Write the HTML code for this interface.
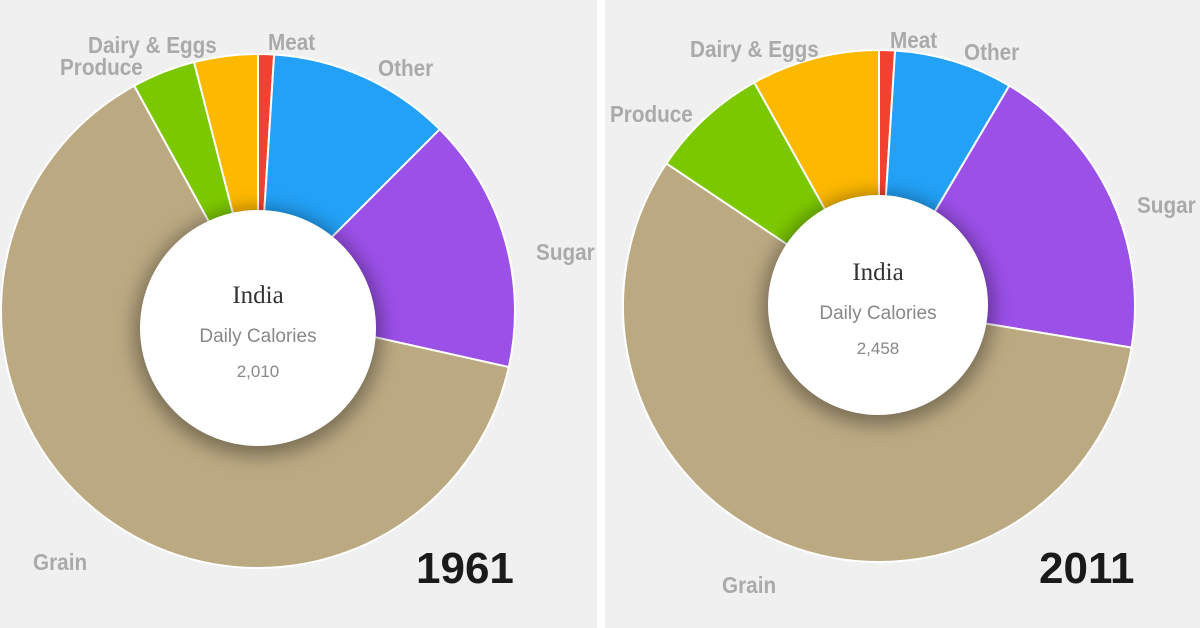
<!DOCTYPE html>
<html><head><meta charset="utf-8">
<style>
html,body{margin:0;padding:0;background:#f0f0f0;}
svg{display:block;}
.lbl{font-family:"Liberation Sans",sans-serif;font-weight:bold;fill:#aaaaaa;font-size:23px;}
.yr{font-family:"Liberation Sans",sans-serif;font-weight:bold;fill:#1a1a1a;font-size:44px;}
.t1{font-family:"Liberation Serif",serif;fill:#333;font-size:25px;}
.t2{font-family:"Liberation Sans",sans-serif;fill:#888;font-size:19px;}
.t3{font-family:"Liberation Sans",sans-serif;fill:#888;font-size:17px;}
</style></head>
<body>
<svg id="chart" width="1200" height="628" viewBox="0 0 1200 628">
<defs>
<clipPath id="cl"><rect x="0" y="0" width="597" height="628"/></clipPath>
<clipPath id="cr"><rect x="605" y="0" width="595" height="628"/></clipPath>
<filter id="sh" x="-30%" y="-30%" width="160%" height="160%"><feGaussianBlur stdDeviation="9"/></filter>
</defs>
<rect x="0" y="0" width="1200" height="628" fill="#f0f0f0"/>
<rect x="597" y="0" width="8" height="628" fill="#ffffff"/>
<g id="left" clip-path="url(#cl)"></g>
<g id="right" clip-path="url(#cr)"></g>
</svg>
<script>
const categories = ["Meat","Other","Sugar","Grain","Produce","Dairy & Eggs"];
const values1961 = [1, 11.5, 16, 63.5, 4, 4];
const values2011 = [1, 7.5, 19.1, 56.8, 7.5, 8.1];
const totals = ["2,010","2,458"];
const years = ["1961","2011"];
const colors = ["#f2412f","#22a1f7","#9b50e8","#bba982","#7cc800","#fdb800"];
const NS="http://www.w3.org/2000/svg";
function mk(tag,attrs,parent){const e=document.createElementNS(NS,tag);for(const k in attrs)e.setAttribute(k,attrs[k]);parent.appendChild(e);return e;}
function pt(cx,cy,r,deg){const a=(deg-90)*Math.PI/180;return [cx+r*Math.cos(a),cy+r*Math.sin(a)];}
function drawDonut(g,vals,cx,cy,r,icx,icy,ir,total,year,yx,labels){
  const sum=vals.reduce((a,b)=>a+b,0);let ang=0;
  vals.forEach((v,i)=>{
    const a0=ang,a1=ang+v/sum*360;ang=a1;
    const p0=pt(cx,cy,r,a0),p1=pt(cx,cy,r,a1);const large=(a1-a0)>180?1:0;
    const p=mk('path',{d:`M${cx},${cy}L${p0[0]},${p0[1]}A${r},${r} 0 ${large} 1 ${p1[0]},${p1[1]}Z`,fill:colors[i],stroke:'#ffffff','stroke-width':2},g);
    
    
  });
  const s=mk('circle',{cx:icx,cy:icy+4,r:ir+6,fill:'rgba(0,0,0,0.35)',filter:'url(#sh)'},g);
  
  
  const c=mk('circle',{cx:icx,cy:icy,r:ir,fill:'#ffffff'},g);
  
  
  const t1=mk('text',{x:icx,y:icy-25,'text-anchor':'middle',class:'t1'},g);t1.textContent='India';
  
  
  const t2=mk('text',{x:icx,y:icy+14,'text-anchor':'middle',class:'t2'},g);t2.textContent='Daily Calories';
  
  
  const t3=mk('text',{x:icx,y:icy+49,'text-anchor':'middle',class:'t3'},g);t3.textContent=total;
  
  
  labels.forEach((l,i)=>{
    const t=mk('text',{x:l[0],y:l[1],class:'lbl'},g);t.textContent=l[2];
    
    
    const w=t.getComputedTextLength();
    t.setAttribute('textLength',(w*0.9).toFixed(1));
    t.setAttribute('lengthAdjust','spacingAndGlyphs');
  });
  const y=mk('text',{x:yx,y:583,class:'yr'},g);y.textContent=year;
  
  
}
drawDonut(document.getElementById('left'),values1961,258,311,257,258,328,118,totals[0],years[0],416,
 [[88,53,'Dairy & Eggs'],[268,50,'Meat'],[60,75,'Produce'],[378,76,'Other'],[536,260,'Sugar'],[33,570,'Grain']]);
drawDonut(document.getElementById('right'),values2011,879,306,256,878,305,110,totals[1],years[1],1039,
 [[690,57,'Dairy & Eggs'],[890,48,'Meat'],[964,60,'Other'],[610,122,'Produce'],[1137,213,'Sugar & Sweeteners'],[722,593,'Grain']]);
</script>
</body></html>
